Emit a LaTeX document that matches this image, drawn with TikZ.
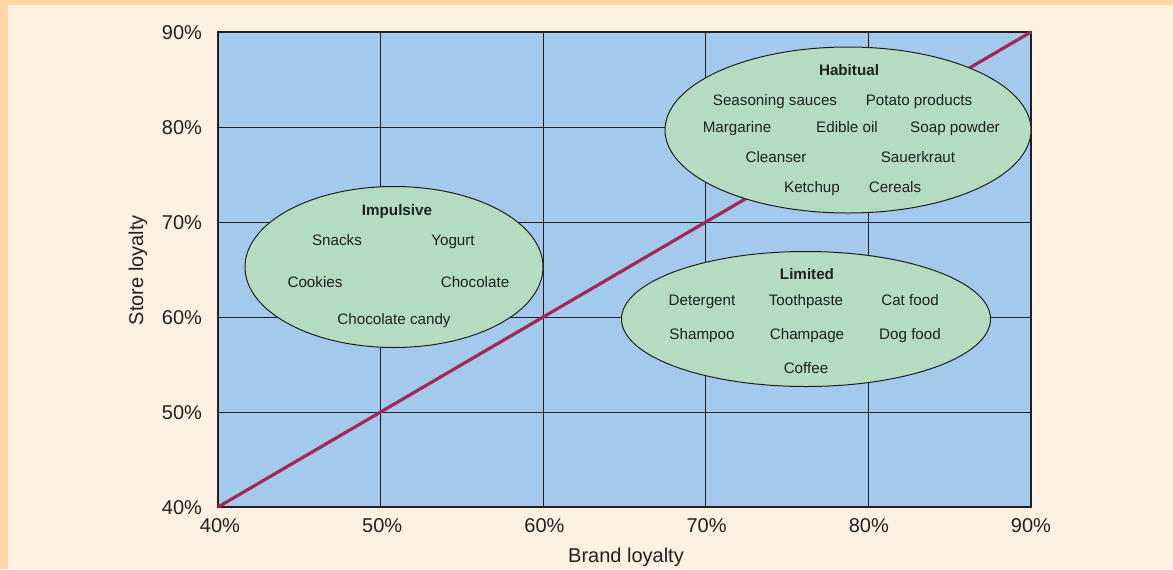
\documentclass[tikz,border=0pt]{standalone}
\usepackage{fontspec}
\setmainfont{Liberation Sans}
\usetikzlibrary{shapes.geometric}

\definecolor{pagebg}{HTML}{FEF1E2}
\definecolor{pageedge}{HTML}{FDD6A4}
\definecolor{plotbg}{HTML}{A3C9EC}
\definecolor{groupfill}{HTML}{B3DCC0}
\definecolor{diagline}{HTML}{A3285A}
\definecolor{ink}{HTML}{231F20}

\tikzset{
    ticklabel/.style = { font = \fontsize{10}{12}\selectfont, text = ink, text height = 7.2pt, text depth = 0pt },
    axistitle/.style = { font = \fontsize{10}{12}\selectfont, text = ink },
    group/.style = { ellipse, draw = ink, line width = 0.5pt, fill = groupfill, inner sep = 0pt },
    item/.style = { font = \fontsize{7.6}{9}\selectfont, text = ink, text height = 6.5pt, text depth = 0.6pt },
    grouptitle/.style = { item, font = \fontsize{7.6}{9}\selectfont\bfseries },
}

\begin{document}
\begin{tikzpicture}[x=0.5pt, y=-0.5pt]
        \useasboundingbox ( 0, 0 ) rectangle ( 1173, 569 );

        % фон
        \fill [pageedge] ( 0, 0 ) rectangle ( 1173, 569 );
        \fill [pagebg] ( 8, 5 ) rectangle ( 1173, 569 );

        % поле графика
        \fill [plotbg] ( 218, 32 ) rectangle ( 1031, 507 );
        \foreach \i in { 1, ..., 4 } {
            \draw [ink, line width = 0.5pt] ( 218 + \i*162.6, 32 ) -- ( 218 + \i*162.6, 507 );
            \draw [ink, line width = 0.5pt] ( 218, 507 - \i*95 ) -- ( 1031, 507 - \i*95 );
        }
        \draw [ink, line width = 0.8pt] ( 218, 32 ) rectangle ( 1031, 507 );

        % подписи осей
        \foreach \i/\v in { 0/40, 1/50, 2/60, 3/70, 4/80, 5/90} {
            \node [ticklabel, anchor = east] (y\v) at ( 209, 507 - \i*95 ) {\v\%};
            \node [ticklabel] (x\v) at ( 220 + \i*162.2, 525 ) {\v\%};
        }
        \node [axistitle, rotate = 90] (ytitle) at ( 138, 270 ) {Store loyalty};
        \node [axistitle] (xtitle) at ( 626, 557 ) {Brand loyalty};

        % диагональ
        \coordinate (lo) at ( 218, 507 );
        \coordinate (hi) at ( 1031, 32 );
        \draw [diagline, line width = 1.6pt] (lo) -- (hi);

        % habitual
        \node [group, minimum width = 183pt, minimum height = 83pt] (habitual) at ( 848, 130 ) {};
        \node [grouptitle] (habtitle) at ( 849, 70 ) {Habitual};
        \node [item] (seasoning) at ( 775, 100 ) {Seasoning sauces};
        \node [item] (potato) at ( 919, 100 ) {Potato products};
        \node [item] (margarine) at ( 737, 127 ) {Margarine};
        \node [item] (oil) at ( 847, 127 ) {Edible oil};
        \node [item] (soap) at ( 955, 127 ) {Soap powder};
        \node [item] (cleanser) at ( 776, 157 ) {Cleanser};
        \node [item] (sauerkraut) at ( 918, 157 ) {Sauerkraut};
        \node [item] (ketchup) at ( 812, 187 ) {Ketchup};
        \node [item] (cereals) at ( 895, 187 ) {Cereals};

        % impulsive
        \node [group, minimum width = 149pt, minimum height = 80.5pt] (impulsive) at ( 394, 267 ) {};
        \node [grouptitle] (imptitle) at ( 397, 210 ) {Impulsive};
        \node [item] (snacks) at ( 337, 240 ) {Snacks};
        \node [item] (yogurt) at ( 453, 240 ) {Yogurt};
        \node [item] (cookies) at ( 315, 282 ) {Cookies};
        \node [item] (chocolate) at ( 475, 282 ) {Chocolate};
        \node [item] (candy) at ( 394, 319 ) {Chocolate candy};

        % limited
        \node [group, minimum width = 184.5pt, minimum height = 67.5pt] (limited) at ( 806, 319 ) {};
        \node [grouptitle] (limtitle) at ( 807, 274 ) {Limited};
        \node [item] (detergent) at ( 702, 300 ) {Detergent};
        \node [item] (toothpaste) at ( 806, 300 ) {Toothpaste};
        \node [item] (catfood) at ( 910, 300 ) {Cat food};
        \node [item] (shampoo) at ( 702, 334 ) {Shampoo};
        \node [item] (champage) at ( 807, 334 ) {Champage};
        \node [item] (dogfood) at ( 910, 334 ) {Dog food};
        \node [item] (coffee) at ( 806, 368 ) {Coffee};
    \end{tikzpicture}
\end{document}
